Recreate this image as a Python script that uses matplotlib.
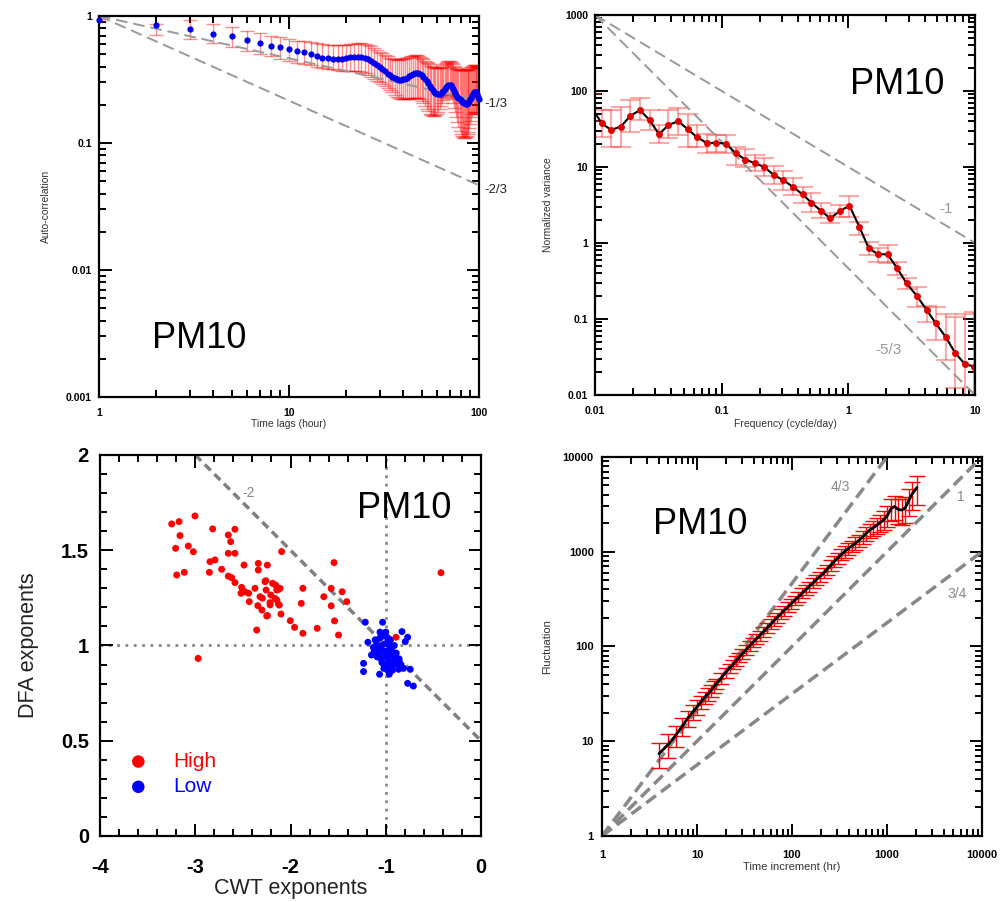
import numpy as np
import matplotlib.pyplot as plt
from matplotlib.ticker import LogLocator, NullFormatter, MultipleLocator

plt.rcParams['font.family'] = ['Liberation Sans', 'DejaVu Sans']

## --- top left: auto-correlation vs time lag
lags = list(range(1, 101))
acf = [0.93, 0.85, 0.79, 0.72, 0.69, 0.65, 0.61, 0.585, 0.565, 0.55,
       0.53, 0.518, 0.50, 0.48, 0.47, 0.464, 0.459, 0.459, 0.459, 0.463,
       0.471, 0.476, 0.478, 0.478, 0.47, 0.455, 0.44, 0.425, 0.41, 0.395,
       0.38, 0.366, 0.352, 0.34, 0.33, 0.322, 0.317, 0.315, 0.315, 0.317,
       0.321, 0.327, 0.334, 0.342, 0.349, 0.353, 0.355, 0.354, 0.348, 0.34,
       0.33, 0.318, 0.306, 0.294, 0.282, 0.272, 0.262, 0.254, 0.248, 0.244,
       0.242, 0.242, 0.244, 0.25, 0.258, 0.267, 0.276, 0.282, 0.286, 0.287,
       0.284, 0.276, 0.266, 0.256, 0.246, 0.238, 0.231, 0.225, 0.22, 0.216,
       0.212, 0.209, 0.207, 0.205, 0.204, 0.204, 0.205, 0.208, 0.213, 0.22,
       0.228, 0.237, 0.245, 0.25, 0.253, 0.253, 0.25, 0.243, 0.232, 0.222]
acf_hi = [0.94, 0.87, 0.93, 0.865, 0.815, 0.76, 0.73, 0.70, 0.68, 0.66,
          0.64, 0.63, 0.62, 0.61, 0.60, 0.595, 0.59, 0.59, 0.59, 0.595,
          0.60, 0.605, 0.61, 0.61, 0.605, 0.59, 0.575, 0.555, 0.54, 0.525,
          0.51, 0.495, 0.48, 0.47, 0.46, 0.455, 0.45, 0.45, 0.455, 0.46,
          0.465, 0.47, 0.475, 0.48, 0.485, 0.49, 0.49, 0.485, 0.475, 0.465,
          0.455, 0.445, 0.435, 0.425, 0.415, 0.405, 0.40, 0.395, 0.39, 0.39,
          0.39, 0.39, 0.395, 0.40, 0.41, 0.42, 0.43, 0.435, 0.44, 0.44,
          0.435, 0.425, 0.415, 0.405, 0.395, 0.39, 0.385, 0.38, 0.378, 0.376,
          0.375, 0.375, 0.375, 0.375, 0.375, 0.376, 0.378, 0.38, 0.385, 0.39,
          0.395, 0.40, 0.405, 0.41, 0.41, 0.41, 0.405, 0.40, 0.395, 0.39]
acf_lo = [0.92, 0.71, 0.655, 0.616, 0.573, 0.533, 0.50, 0.48, 0.46, 0.44,
          0.43, 0.42, 0.41, 0.40, 0.39, 0.385, 0.38, 0.375, 0.37, 0.37,
          0.37, 0.37, 0.37, 0.365, 0.355, 0.34, 0.33, 0.32, 0.31, 0.30,
          0.29, 0.28, 0.27, 0.26, 0.25, 0.24, 0.232, 0.226, 0.222, 0.22,
          0.22, 0.22, 0.222, 0.224, 0.226, 0.228, 0.228, 0.226, 0.222, 0.215,
          0.205, 0.195, 0.185, 0.177, 0.17, 0.166, 0.164, 0.164, 0.166, 0.17,
          0.176, 0.184, 0.194, 0.205, 0.216, 0.226, 0.234, 0.24, 0.242, 0.24,
          0.232, 0.22, 0.205, 0.19, 0.175, 0.16, 0.145, 0.133, 0.124, 0.117,
          0.113, 0.111, 0.11, 0.11, 0.111, 0.113, 0.117, 0.122, 0.13, 0.14,
          0.15, 0.16, 0.168, 0.172, 0.174, 0.175, 0.174, 0.172, 0.17, 0.168]
acf_slopes = [-1/3, -2/3]
acf_slope_labels = ['-1/3', '-2/3']
acf_label_y = [0.203, 0.043]

## --- top right: normalized variance spectrum
freq = [0.0093, 0.0113, 0.0134, 0.016, 0.019, 0.0226, 0.027, 0.032, 0.038, 0.0455,
        0.054, 0.064, 0.077, 0.091, 0.109, 0.129, 0.154, 0.183, 0.217, 0.259,
        0.306, 0.363, 0.435, 0.51, 0.61, 0.72, 0.86, 1.02, 1.22, 1.45,
        1.72, 2.04, 2.43, 2.88, 3.46, 4.15, 4.9, 5.9, 6.95, 8.3, 9.8]
var = [62, 37.6, 30.7, 34, 46.9, 56, 41.5, 26.9, 35.7, 40,
       31.3, 24.6, 20.5, 20.9, 20.1, 15.1, 12.5, 11.2, 10, 7.8,
       6.74, 5.5, 4.37, 3.4, 2.64, 2.11, 2.64, 3.1, 1.64, 0.851,
       0.71, 0.71, 0.465, 0.295, 0.203, 0.132, 0.0877, 0.0574, 0.036, 0.0256, 0.0236]
var_hi = [90, 56, 56, 62, 76, 80, 56, 35.7, 56, 59,
          50, 35.7, 27, 26.4, 26, 18.5, 17, 14.5, 13, 10.2,
          8.95, 7.1, 5.51, 4.5, 3.33, 2.46, 3.16, 4.15, 1.91, 1.04,
          0.85, 0.94, 0.568, 0.343, 0.266, 0.148, 0.145, 0.115, 0.107, 0.116, 0.125]
var_lo = [40, 25.1, 18.5, 18.5, 29.2, 41.5, 30.7, 20.5, 23.8, 26.4,
          18.5, 18.5, 15.1, 15.9, 15.1, 10.6, 10.1, 8.8, 7.7, 5.9,
          5.0, 4.28, 3.33, 2.58, 2.11, 1.82, 2.22, 2.22, 1.27, 0.695,
          0.568, 0.54, 0.38, 0.245, 0.145, 0.0923, 0.053, 0.0289, 0.0122, 0.005, 0.005]
spec_slopes = [-1, -5/3]
spec_slope_labels = ['-1', '-5/3']
spec_label_pos = [(5.97, 2.77), (2.07, 0.039)]

## --- bottom left: DFA vs CWT exponents
cwt_high = [-3.247, -3.170, -3.003, -3.160, -3.206, -3.073, -3.020, -3.195, -3.115, -2.817,
            -2.653, -2.628, -2.583, -2.653, -2.583, -2.845, -2.793, -2.852, -2.723, -2.653,
            -2.618, -2.488, -2.338, -2.243, -2.338, -2.583, -2.513, -2.478, -2.433, -2.373,
            -2.320, -2.268, -2.188, -2.156, -2.128, -2.163, -2.215, -2.118, -2.250, -2.093,
            -2.355, -2.002, -1.957, -1.870, -1.887, -1.870, -1.720, -1.650, -1.573, -1.543,
            -1.573, -1.538, -1.496, -1.458, -1.409, -0.420, -0.892, -2.295, -2.343, -2.300,
            -2.242, -2.214, -2.207, -2.144, -2.126, -2.100, -2.144, -2.440, -2.520, -2.970,
            -2.260, -2.256, -2.110]
dfa_high = [1.638, 1.650, 1.680, 1.577, 1.510, 1.522, 1.492, 1.370, 1.384, 1.612,
            1.580, 1.545, 1.610, 1.484, 1.484, 1.440, 1.449, 1.384, 1.400, 1.364,
            1.356, 1.422, 1.431, 1.422, 1.396, 1.330, 1.305, 1.282, 1.230, 1.300,
            1.256, 1.335, 1.326, 1.317, 1.294, 1.247, 1.225, 1.212, 1.155, 1.493,
            1.081, 1.130, 1.095, 1.064, 1.221, 1.300, 1.090, 1.256, 1.300, 1.435,
            1.208, 1.129, 1.055, 1.282, 1.230, 1.382, 1.043, 1.248, 1.209, 1.186,
            1.157, 1.213, 1.265, 1.291, 1.216, 1.165, 1.239, 1.274, 1.274, 0.932,
            1.340, 1.291, 1.300]
cwt_low = [-1.215, -1.033, -1.187, -1.233, -1.233, -1.065, -0.963, -0.830, -0.770, -0.795,
           -0.743, -0.770, -0.710, -0.865, -0.813, -0.880, -0.900,
           -1.10, -1.06, -1.02, -0.98, -1.08, -1.04, -1.00, -0.96, -0.94, -1.12,
           -1.07, -1.03, -0.99, -0.95, -1.09, -1.05, -1.01, -0.97, -0.93, -0.90,
           -1.04, -1.00, -0.96, -0.92, -0.88, -1.13, -1.11, -0.91, -0.95, -1.00,
           -1.06, -0.89, -0.86, -0.84, -0.98, -1.02, -1.15, -0.93]
dfa_low = [1.122, 1.122, 1.017, 0.906, 0.863, 0.849, 0.849, 1.073, 1.043, 1.020,
           0.875, 0.801, 0.787, 0.875, 0.880, 0.900, 0.930,
           1.02, 1.04, 1.05, 1.04, 0.99, 1.00, 1.01, 1.00, 0.98, 0.97,
           0.96, 0.97, 0.97, 0.95, 0.94, 0.93, 0.94, 0.92, 0.93, 0.94,
           0.91, 0.90, 0.89, 0.90, 0.91, 0.99, 1.03, 1.00, 1.03, 1.07,
           1.07, 0.96, 0.93, 0.90, 0.87, 0.88, 0.95, 0.87]
guide_slope, guide_icpt = -0.5, 0.5

## --- bottom right: fluctuation vs time increment
t_inc = [4, 5, 6, 7, 8, 9, 10, 11, 12, 13, 14, 15, 16,
         18, 20, 22, 24, 26, 28, 30, 33, 36, 39, 42, 46, 50,
         55, 60, 65, 70, 76, 83, 90, 98, 107, 117, 128, 140, 152, 166, 181, 197,
         215, 234, 255, 278, 303, 330, 360, 392, 427, 466, 508, 554, 604, 658, 717, 782,
         852, 929, 1012, 1103, 1203, 1311, 1429, 1558, 1698, 1851, 2050]
fluct = [7.4, 9.3, 11.6, 14.5, 17.5, 20.3, 23, 26, 29, 31.5, 34, 37.5, 40.5,
         46.5, 53, 59, 65, 71, 77, 84, 93, 102, 111, 120, 131, 143,
         158, 173, 188, 202, 220, 240, 260, 282, 308, 336, 366, 398, 430, 468, 508, 550,
         598, 650, 720, 790, 860, 935, 1010, 1080, 1150, 1230, 1320, 1430, 1560, 1690, 1790, 1900,
         2030, 2180, 2420, 2850, 3000, 2800, 2750, 2900, 3500, 4100, 4700]
fluct_rel = [0.30, 0.28, 0.25, 0.22, 0.20, 0.18, 0.17, 0.16, 0.15, 0.15, 0.14, 0.14, 0.13,
             0.13, 0.13, 0.12, 0.12, 0.12, 0.12, 0.12, 0.12, 0.12, 0.12, 0.12, 0.12, 0.12,
             0.12, 0.12, 0.12, 0.12, 0.12, 0.12, 0.12, 0.12, 0.12, 0.12, 0.12, 0.12, 0.12, 0.12, 0.12, 0.12,
             0.12, 0.12, 0.13, 0.13, 0.13, 0.13, 0.14, 0.14, 0.14, 0.15, 0.15, 0.16, 0.16, 0.17, 0.18, 0.19,
             0.20, 0.22, 0.24, 0.26, 0.28, 0.30, 0.30, 0.30, 0.32, 0.33, 0.34]
dfa_slopes = [4/3, 1, 3/4]
dfa_slope_labels = ['4/3', '1', '3/4']
dfa_label_pos = [(323, 4830), (6010, 3785), (5457, 362)]

fig = plt.figure(figsize=(10, 9.02), dpi=100)


def frame(ax):
    for s in ax.spines.values():
        s.set_linewidth(1.6)
    ax.tick_params(which='both', direction='in', top=True, right=True, width=1.4, colors='black')
    ax.tick_params(which='major', length=9)
    ax.tick_params(which='minor', length=5)


def logticks(axis, ticks, labels, fs):
    axis.set_ticks(ticks, labels, fontsize=fs, fontweight='bold')
    axis.set_minor_locator(LogLocator(base=10, subs=np.arange(2, 10)))
    axis.set_minor_formatter(NullFormatter())


# 1. auto-correlation
ax1 = fig.add_axes([0.099, 0.5599, 0.38, 0.4224])
ax1.set_xscale('log'); ax1.set_yscale('log')
a = np.array(acf)
ax1.errorbar(lags, a, yerr=[a - np.array(acf_lo), np.array(acf_hi) - a], fmt='none',
             ecolor=(1, 0, 0, 0.45), elinewidth=1, capsize=5, capthick=1)
xx = np.array([1, 100])
for s in acf_slopes:
    ax1.plot(xx, xx ** s, ls=(0, (6, 3)), color='#999999', lw=1.4)
ax1.plot(lags, acf, 'o', color='#0000ee', ms=4.5, mec='none', clip_on=False, zorder=5)
for lab, yv in zip(acf_slope_labels, acf_label_y):
    ax1.text(107, yv, lab, fontsize=9.5, color='#222222', va='center', clip_on=False)
ax1.set_xlim(1, 100); ax1.set_ylim(0.001, 1)
frame(ax1)
logticks(ax1.xaxis, [1, 10, 100], ['1', '10', '100'], 7.5)
logticks(ax1.yaxis, [0.001, 0.01, 0.1, 1], ['0.001', '0.01', '0.1', '1'], 7.5)
ax1.tick_params(axis='x', pad=8); ax1.tick_params(axis='y', pad=5)
ax1.set_xlabel('Time lags (hour)', fontsize=7.5, color='#333333')
ax1.set_ylabel('Auto-correlation', fontsize=7.5, color='#333333')
ax1.xaxis.set_label_coords(0.5, -0.058)
ax1.yaxis.set_label_coords(-0.126, 0.5)
ax1.text(0.139, 0.129, 'PM10', transform=ax1.transAxes, fontsize=26, va='baseline')

# 2. spectrum
ax2 = fig.add_axes([0.595, 0.5621, 0.38, 0.4213])
ax2.set_xscale('log'); ax2.set_yscale('log')
v = np.array(var)
ax2.errorbar(freq, v, yerr=[v - np.array(var_lo), np.array(var_hi) - v], fmt='none',
             ecolor=(1, 0.25, 0.25, 0.45), elinewidth=1.5, capsize=7, capthick=1.5)
ff = np.array([0.01, 10])
for s in spec_slopes:
    ax2.plot(ff, 1000 * (ff / 0.01) ** s, ls=(0, (6, 3)), color='#999999', lw=1.4)
ax2.plot(freq, var, '-', color='black', lw=1.5)
ax2.plot(freq, var, 'o', color='#e00000', ms=5, mec='none')
for lab, (px, py) in zip(spec_slope_labels, spec_label_pos):
    ax2.text(px, py, lab, fontsize=11, color='#999999', ha='center', va='center')
ax2.set_xlim(0.01, 10); ax2.set_ylim(0.01, 1000)
frame(ax2)
logticks(ax2.xaxis, [0.01, 0.1, 1, 10], ['0.01', '0.1', '1', '10'], 7.5)
logticks(ax2.yaxis, [0.01, 0.1, 1, 10, 100, 1000], ['0.01', '0.1', '1', '10', '100', '1000'], 7.5)
ax2.tick_params(axis='x', pad=8); ax2.tick_params(axis='y', pad=5)
ax2.set_xlabel('Frequency (cycle/day)', fontsize=7.5, color='#333333')
ax2.set_ylabel('Normalized variance', fontsize=7.5, color='#333333')
ax2.xaxis.set_label_coords(0.5, -0.063)
ax2.yaxis.set_label_coords(-0.11, 0.5)
ax2.text(0.671, 0.792, 'PM10', transform=ax2.transAxes, fontsize=26, va='baseline')

# 3. DFA vs CWT scatter
ax3 = fig.add_axes([0.100, 0.0732, 0.381, 0.4224])
ax3.axhline(1, color='#888888', ls=(0, (1, 2)), lw=2, zorder=1)
ax3.axvline(-1, color='#888888', ls=(0, (1, 2)), lw=2, zorder=1)
gx = np.array([-3, 0])
ax3.plot(gx, guide_icpt + guide_slope * gx, ls=(0, (2.4, 1.5)), color='#808080', lw=2.5, zorder=1)
ax3.text(-2.44, 1.8, '-2', fontsize=10, color='#888888', ha='center', va='center')
ax3.scatter(cwt_low, dfa_low, s=25, color='#0000ff', edgecolors='none', label='Low', zorder=3)
ax3.scatter(cwt_high, dfa_high, s=25, color='#ff0000', edgecolors='none', label='High', zorder=3)
h, l = ax3.get_legend_handles_labels()
ax3.legend(h[::-1], l[::-1], loc='lower left', bbox_to_anchor=(0.024, 0.055), frameon=False,
           fontsize=15, handlelength=1, handletextpad=1.2, labelspacing=0.3,
           labelcolor='markerfacecolor', scatterpoints=1, markerscale=1.8)
ax3.set_xlim(-4, 0); ax3.set_ylim(0, 2)
frame(ax3)
ax3.xaxis.set_major_locator(MultipleLocator(1)); ax3.xaxis.set_minor_locator(MultipleLocator(0.2))
ax3.yaxis.set_major_locator(MultipleLocator(0.5)); ax3.yaxis.set_minor_locator(MultipleLocator(0.1))
ax3.set_xticks([-4, -3, -2, -1, 0], ['-4', '-3', '-2', '-1', '0'], fontsize=14.5, fontweight='bold')
ax3.set_yticks([0, 0.5, 1, 1.5, 2], ['0', '0.5', '1', '1.5', '2'], fontsize=14.5, fontweight='bold')
ax3.tick_params(axis='x', pad=16); ax3.tick_params(axis='y', pad=8)
ax3.set_xlabel('CWT exponents', fontsize=15.5, color='#222222')
ax3.set_ylabel('DFA exponents', fontsize=15.5, color='#222222')
ax3.xaxis.set_label_coords(0.5, -0.11)
ax3.yaxis.set_label_coords(-0.16, 0.5)
ax3.text(0.675, 0.834, 'PM10', transform=ax3.transAxes, fontsize=26, va='baseline')

# 4. fluctuation
ax4 = fig.add_axes([0.602, 0.0732, 0.38, 0.4202])
ax4.set_xscale('log'); ax4.set_yscale('log')
tt = np.array([1, 10000])
for s in dfa_slopes:
    ax4.plot(tt, tt ** s, ls=(0, (3.5, 1.8)), color='#888888', lw=2.5)
fl = np.array(fluct)
ax4.errorbar(t_inc, fl, yerr=fl * np.array(fluct_rel), fmt='none', ecolor='#ff0000',
             elinewidth=1, capsize=5.5, capthick=1)
ax4.plot(t_inc, fluct, '-', color='black', lw=2)
for lab, (px, py) in zip(dfa_slope_labels, dfa_label_pos):
    ax4.text(px, py, lab, fontsize=10, color='#888888', ha='center', va='center')
ax4.set_xlim(1, 10000); ax4.set_ylim(1, 10000)
frame(ax4)
logticks(ax4.xaxis, [1, 10, 100, 1000, 10000], ['1', '10', '100', '1000', '10000'], 8)
logticks(ax4.yaxis, [1, 10, 100, 1000, 10000], ['1', '10', '100', '1000', '10000'], 8)
ax4.tick_params(axis='x', pad=10); ax4.tick_params(axis='y', pad=6)
ax4.set_xlabel('Time increment (hr)', fontsize=8, color='#333333')
ax4.set_ylabel('Fluctuation', fontsize=8, color='#333333')
ax4.xaxis.set_label_coords(0.5, -0.068)
ax4.yaxis.set_label_coords(-0.132, 0.5)
ax4.text(0.135, 0.796, 'PM10', transform=ax4.transAxes, fontsize=26, va='baseline')

fig.savefig('out.png', dpi=100)
